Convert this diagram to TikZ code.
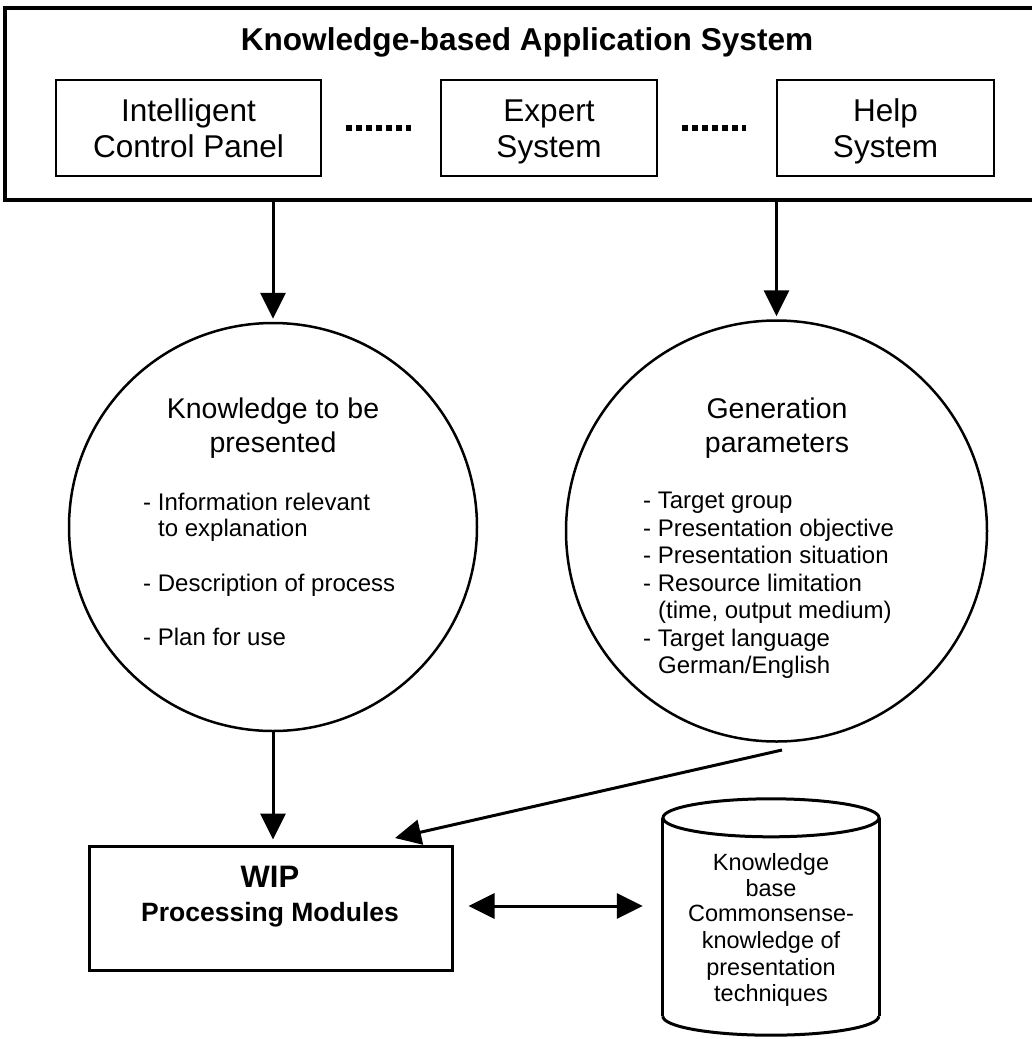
\documentclass[tikz,border=0pt]{standalone}
\usepackage{fontspec}
\setmainfont{Liberation Sans}
\usetikzlibrary{arrows.meta}
\begin{document}
\begin{tikzpicture}[x=1pt,y=-1pt,
  arr/.style={line width=3pt,-{Triangle[length=26pt,width=25pt]}},
  dblarr/.style={line width=3pt,{Triangle[length=26pt,width=25pt]}-{Triangle[length=26pt,width=25pt]}},
  sbox/.style={draw,line width=2pt,minimum height=96pt,inner sep=0},
  boxtxt/.style={font=\fontsize{31.5}{36}\selectfont,inner sep=0,anchor=base},
  head/.style={font=\fontsize{28.5}{33}\selectfont,inner sep=0,anchor=base},
  lst/.style={font=\fontsize{24}{27}\selectfont,inner sep=0,anchor=base west},
  cyltxt/.style={font=\fontsize{23.5}{26}\selectfont,inner sep=0,anchor=base},
  dots/.style={line width=6pt,dash pattern=on 6pt off 4pt},
  ring/.style={draw,circle,line width=2.5pt,inner sep=0}]
\clip (0,0) rectangle (1032,1039);
\fill[white] (0,0) rectangle (1032,1039);

% outer system box
\node[draw,line width=3.5pt,minimum width=1036pt,minimum height=192pt,inner sep=0] (kbs) at (523,104) {};
\node[font=\bfseries\fontsize{31.6}{36}\selectfont,inner sep=0,anchor=base] (title) at (527,50) {Knowledge-based Application System};

% inner boxes
\node[sbox,minimum width=265pt] (icp) at (188.5,128) {};
\node[sbox,minimum width=216pt] (exs) at (549,128) {};
\node[sbox,minimum width=217pt] (hlp) at (885.5,128) {};
\node[boxtxt] (icp1) at (188.5,121) {Intelligent};
\node[boxtxt] (icp2) at (188.5,157) {Control Panel};
\node[boxtxt] (exs1) at (549,121) {Expert};
\node[boxtxt] (exs2) at (549,157) {System};
\node[boxtxt] (hlp1) at (885.5,121) {Help};
\node[boxtxt] (hlp2) at (885.5,157) {System};
\draw[dots] ([xshift=24pt]icp.east) -- ([xshift=-29pt]exs.west);
\draw[dots] ([xshift=24pt]exs.east) -- ([xshift=-30pt]hlp.west);

% circles
\node[ring,minimum size=408pt] (kp) at (273,527) {};
\node[ring,minimum size=421pt] (gp) at (776.5,531) {};

\node[head] (kph1) at (273,418) {Knowledge to be};
\node[head] (kph2) at (273,452) {presented};
\foreach \x/\y/\t [count=\i] in {143/510/{- Information relevant},158/536/{to explanation},143/591/{- Description of process},143/645/{- Plan for use}}
  \node[lst] (kpl\i) at (\x,\y) {\t};

\node[head] (gph1) at (777,418) {Generation};
\node[head] (gph2) at (777,452) {parameters};
\foreach \x/\y/\t [count=\i] in {643/508/{- Target group},643/536/{- Presentation objective},643/563/{- Presentation situation},643/591/{- Resource limitation},658/618/{(time, output medium)},643/646/{- Target language},658/673/{German/English}}
  \node[lst] (gpl\i) at (\x,\y) {\t};

% WIP box
\node[draw,line width=3pt,minimum width=363pt,minimum height=124pt,inner sep=0] (wip) at (270.5,908) {};
\node[font=\bfseries\fontsize{31}{36}\selectfont,inner sep=0,anchor=base] (wip1) at (270,887) {WIP};
\node[font=\bfseries\fontsize{26.5}{30}\selectfont,inner sep=0,anchor=base] (wip2) at (270,921) {Processing Modules};

% knowledge base cylinder
\node[minimum width=216pt,minimum height=198pt,inner sep=0] (kb) at (771,917) {};
\draw[line width=3pt] (kb.north west) -- (kb.south west);
\draw[line width=3pt] (kb.north east) -- (kb.south east);
\draw[line width=3pt] (kb.north) ellipse [x radius=108, y radius=19];
\draw[line width=3pt] (kb.south west) arc[start angle=180, end angle=0, x radius=108, y radius=19];
\foreach \y/\t [count=\i] in {870/Knowledge,896/base,921/Commonsense-,948/knowledge of,975/presentation,1001/techniques}
  \node[cyltxt] (kbt\i) at (771,\y) {\t};

% connectors
\draw[arr] (kbs.south -| kp.north) -- ([yshift=3pt]kp.north);
\draw[arr] (kbs.south -| gp.north) -- ([yshift=3pt]gp.north);
\draw[arr] (kp.south) -- ([yshift=5pt]kp.south |- wip.north);
\coordinate (d1) at (782,750);
\coordinate (d2) at (395,838);
\draw[arr] (d1) -- (d2);
\draw[dblarr] ([xshift=15pt,yshift=2pt]wip.east) -- ([xshift=-20pt,yshift=2pt]kb.west |- wip.east);
\end{tikzpicture}
\end{document}
